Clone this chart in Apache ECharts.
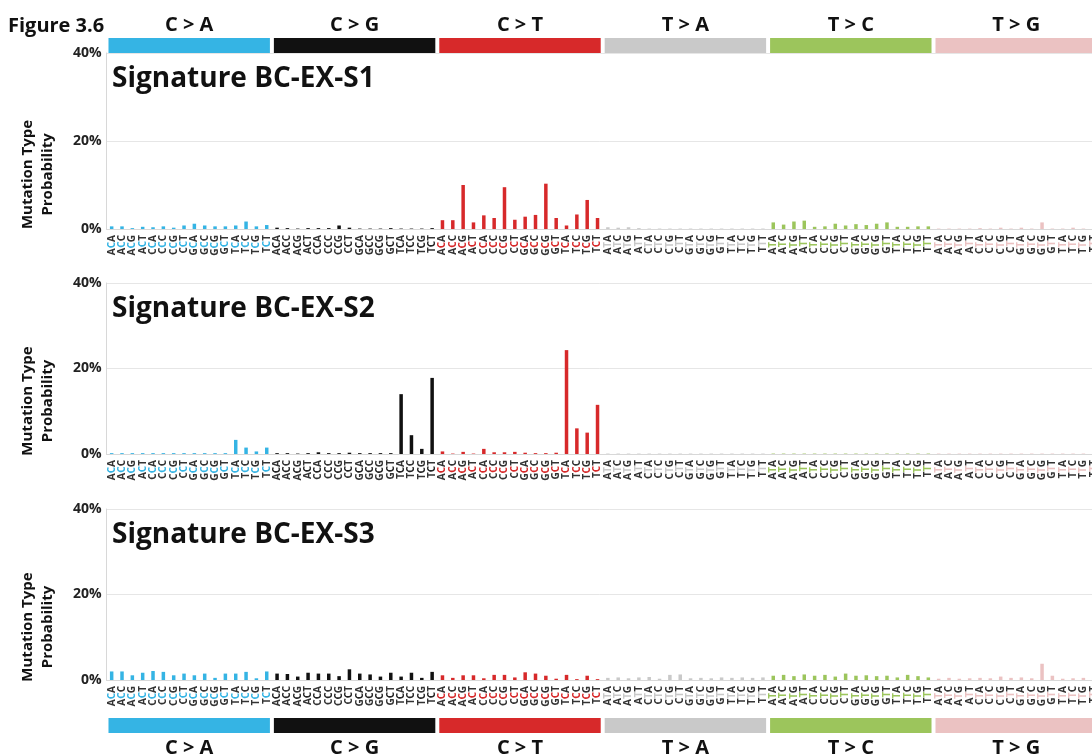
<!DOCTYPE html>
<html>
<head>
<meta charset="utf-8">
<script src="https://cdn.jsdelivr.net/npm/echarts@6/dist/echarts.min.js"></script>
<style>
  html, body { margin: 0; padding: 0; background: #fff; }
  #chart { width: 1092px; height: 756px; }
</style>
</head>
<body>
<div id="chart"></div>
<script>
// Mutation classes and their colours
const groups = ['C > A', 'C > G', 'C > T', 'T > A', 'T > C', 'T > G'];
const groupColors = ['#35b4e4', '#111111', '#d7292a', '#c9c9c9', '#9cc55c', '#ebc2c2'];

// Trinucleotide contexts, 16 per class
const contextsC = ['ACA','ACC','ACG','ACT','CCA','CCC','CCG','CCT','GCA','GCC','GCG','GCT','TCA','TCC','TCG','TCT'];
const contextsT = ['ATA','ATC','ATG','ATT','CTA','CTC','CTG','CTT','GTA','GTC','GTG','GTT','TTA','TTC','TTG','TTT'];

// Y tick labels (percent)
const yTicks = [0, 20, 40];

// Signature BC-EX-S1 (percent per context, class order as above)
const s1_CA = [0.6,0.6,0.2,0.5,0.4,0.6,0.3,0.8,1.2,0.8,0.6,0.6,0.8,1.7,0.6,0.9];
const s1_CG = [0.3,0.2,0.1,0.2,0.2,0.2,0.8,0.3,0.1,0.1,0.1,0.2,0.1,0.1,0.1,0.2];
const s1_CT = [2.0,2.0,10.0,1.5,3.1,2.5,9.5,2.1,2.8,3.2,10.3,2.5,0.8,3.3,6.6,2.5];
const s1_TA = [0.4,0.3,0.4,0.2,0.1,0.1,0.1,0.1,0.1,0.1,0.1,0.1,0.1,0.1,0.1,0.1];
const s1_TC = [1.5,1.0,1.7,1.9,0.5,0.6,1.2,0.8,1.1,0.9,1.2,1.5,0.5,0.5,0.6,0.6];
const s1_TG = [0.1,0.1,0.1,0.1,0.2,0.1,0.3,0.1,0.3,0.1,1.5,0.1,0.1,0.3,0.1,0.1];

// Signature BC-EX-S2
const s2_CA = [0.2,0.2,0.2,0.2,0.2,0.2,0.2,0.2,0.2,0.2,0.2,0.2,3.3,1.5,0.6,1.5];
const s2_CG = [0.2,0.2,0.1,0.2,0.4,0.2,0.2,0.3,0.2,0.2,0.2,0.2,14.0,4.4,1.2,17.8];
const s2_CT = [0.6,0.1,0.5,0.1,1.2,0.4,0.4,0.5,0.3,0.2,0.2,0.3,24.3,6.0,5.0,11.5];
const s2_TA = [0.1,0.1,0.1,0.1,0.1,0.1,0.1,0.1,0.1,0.1,0.1,0.1,0.1,0.1,0.1,0.1];
const s2_TC = [0.1,0.1,0.1,0.1,0.1,0.1,0.1,0.1,0.1,0.1,0.1,0.1,0.1,0.1,0.1,0.1];
const s2_TG = [0.1,0.1,0.1,0.1,0.1,0.1,0.1,0.1,0.1,0.1,0.1,0.1,0.1,0.1,0.1,0.1];

// Signature BC-EX-S3
const s3_CA = [2.0,2.0,1.1,1.7,2.1,1.9,1.1,1.5,1.1,1.5,0.5,1.5,1.5,1.9,0.4,2.0];
const s3_CG = [1.5,1.4,0.8,1.7,1.5,1.5,0.9,2.5,1.5,1.3,0.8,1.7,0.8,1.7,0.5,1.9];
const s3_CT = [1.1,0.5,1.1,1.1,0.4,1.2,1.2,0.6,1.8,1.5,1.0,0.3,1.2,0.2,1.0,0.2];
const s3_TA = [0.5,0.6,0.4,0.6,0.7,0.3,1.2,1.3,0.4,0.5,0.4,0.6,0.5,0.6,0.5,0.6];
const s3_TC = [1.0,1.2,0.9,1.3,1.0,1.2,0.8,1.5,1.0,1.1,0.9,1.0,0.6,1.2,0.9,0.6];
const s3_TG = [0.3,0.5,0.3,0.4,0.5,0.4,0.8,0.5,0.6,0.4,3.8,1.0,0.3,0.4,0.5,0.5];

const signatureNames = ['Signature BC-EX-S1', 'Signature BC-EX-S2', 'Signature BC-EX-S3'];
const signatures = [
  [s1_CA, s1_CG, s1_CT, s1_TA, s1_TC, s1_TG],
  [s2_CA, s2_CG, s2_CT, s2_TA, s2_TC, s2_TG],
  [s3_CA, s3_CG, s3_CT, s3_TA, s3_TC, s3_TG]
];

// 96 categories: class + context
const contexts = [];
groups.forEach((g, gi) => {
  (gi < 3 ? contextsC : contextsT).forEach(c => contexts.push(c));
});
const categories = contexts.map((c, i) => groups[Math.floor(i / 16)] + ' ' + c);

const FONT = '"Open Sans", "Noto Sans", sans-serif';
// the plotting area runs on past the right edge of the page
const LEFT = 106.5, WIDTH = 992.4;

// panel layout: top of the 40% line and the 0% baseline
const panels = [
  { top: 53, base: 229 },
  { top: 283, base: 454 },
  { top: 509, base: 680 }
];

const LBL = 10;
const rich = { f: { color: '#333', fontSize: LBL, fontWeight: 'bold', fontFamily: FONT, lineHeight: 10 } };
groupColors.forEach((c, gi) => {
  rich['m' + gi] = { color: c === '#111111' ? '#222' : c, fontSize: LBL, fontWeight: 'bold', fontFamily: FONT, lineHeight: 10 };
});

const grid = [], xAxis = [], yAxis = [], series = [], title = [], graphic = [];

panels.forEach((p, pi) => {
  grid.push({ left: LEFT, width: WIDTH, top: p.top, height: p.base - p.top, outerBoundsMode: 'none' });
  xAxis.push({
    type: 'category', gridIndex: pi, data: categories,
    axisLine: { lineStyle: { color: '#d8d8d8', width: 1 } },
    axisTick: { show: false },
    axisLabel: {
      interval: 0, rotate: 90, margin: 6, hideOverlap: false,
      formatter: (v, idx) => {
        const c = contexts[idx], g = Math.floor(idx / 16);
        return '{f|' + c[0] + '}{m' + g + '|' + c[1] + '}{f|' + c[2] + '}';
      },
      rich: rich
    }
  });
  yAxis.push({
    type: 'value', gridIndex: pi, min: yTicks[0], max: yTicks[yTicks.length - 1], interval: 20,
    axisLine: { show: true, lineStyle: { color: '#d8d8d8' } },
    axisTick: { show: false },
    splitLine: { lineStyle: { color: '#e6e6e6' } },
    axisLabel: { formatter: '{value}%', fontFamily: FONT, fontWeight: 'bold', fontSize: 14, color: '#222', margin: 5 }
  });
  const values = [].concat(...signatures[pi]);
  series.push({
    type: 'bar', xAxisIndex: pi, yAxisIndex: pi, data: values, barWidth: 3.5,
    itemStyle: { color: prm => groupColors[Math.floor(prm.dataIndex / 16)] },
    silent: true, animation: false
  });
  title.push({
    text: signatureNames[pi], left: 107, top: p.top + 7,
    textStyle: { fontFamily: FONT, fontWeight: 'bold', fontSize: 28, color: '#111' }
  });
  graphic.push({
    type: 'text', x: 38, y: p.top + (p.base - p.top) * 0.69, rotation: Math.PI / 2,
    style: {
      text: 'Mutation Type\nProbability', align: 'center', verticalAlign: 'middle',
      font: 'bold 15px ' + FONT, fill: '#111', lineHeight: 20
    }
  });
});

// Class strips above and below the panels
const strips = [
  { top: 38, pos: 'top', margin: 3 },
  { top: 718, pos: 'bottom', margin: 5 }
];
strips.forEach(s => {
  const gi = grid.length;
  grid.push({ left: LEFT, width: WIDTH, top: s.top, height: 15, outerBoundsMode: 'none' });
  xAxis.push({
    type: 'category', gridIndex: gi, data: groups, position: s.pos,
    axisLine: { show: false }, axisTick: { show: false },
    axisLabel: { interval: 0, margin: s.margin, fontFamily: FONT, fontWeight: 'bold', fontSize: 20, color: '#111' }
  });
  yAxis.push({ type: 'value', gridIndex: gi, min: 0, max: 1, show: false });
  series.push({
    type: 'bar', xAxisIndex: gi, yAxisIndex: gi, barCategoryGap: '2.4%',
    data: groups.map((g, i) => ({ value: 1, itemStyle: { color: groupColors[i] } })),
    silent: true, animation: false
  });
});

title.push({
  text: 'Figure 3.6', left: 3, top: 11,
  textStyle: { fontFamily: FONT, fontWeight: 'bold', fontSize: 20, color: '#111' }
});

const chart = echarts.init(document.getElementById('chart'), null, { renderer: 'canvas' });
chart.setOption({
  animation: false,
  backgroundColor: '#fff',
  title, grid, xAxis, yAxis, series, graphic
});
</script>
</body>
</html>
